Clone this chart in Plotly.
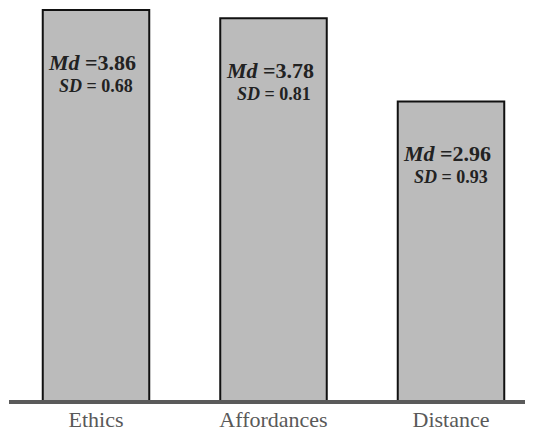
import plotly.graph_objects as go

categories = ["Ethics", "Affordances", "Distance"]
medians = [3.86, 3.78, 2.96]
sds = [0.68, 0.81, 0.93]

xpos = list(range(len(categories)))
FONT = "Liberation Serif"

fig = go.Figure()
fig.add_trace(go.Bar(
    x=xpos, y=medians, width=0.6,
    marker=dict(color="#bbbbbb", line=dict(color="#111111", width=2)),
    hoverinfo="skip",
))

for i, (m, s) in enumerate(zip(medians, sds)):
    fig.add_annotation(
        x=i, y=m, xref="x", yref="y", showarrow=False,
        text=f"<b><i>Md</i> =</b><b>{m:.2f}</b>",
        font=dict(family=FONT, size=22, color="#222222"),
        xanchor="center", yanchor="middle", xshift=-4, yshift=-52,
    )
    fig.add_annotation(
        x=i, y=m, xref="x", yref="y", showarrow=False,
        text=f"<b><i>SD</i> = {s:.2f}</b>",
        font=dict(family=FONT, size=18, color="#222222"),
        xanchor="center", yanchor="middle", xshift=0, yshift=-76,
    )

fig.add_shape(type="line", xref="paper", yref="y", x0=1/525, x1=1, y0=0, y1=0,
              line=dict(color="#5a5a5a", width=4))

fig.update_layout(
    width=525, height=430,
    margin=dict(l=0, r=0, t=0, b=34),
    paper_bgcolor="white", plot_bgcolor="white",
    showlegend=False,
    xaxis=dict(range=[-0.4958, 2.462], tickvals=xpos, ticktext=categories,
               showgrid=False, zeroline=False, showline=False, ticks="",
               tickfont=dict(family=FONT, size=22, color="#595959")),
    yaxis=dict(range=[-0.0197, 3.880], visible=False, showgrid=False, zeroline=False),
)

fig.write_html("out.html")
